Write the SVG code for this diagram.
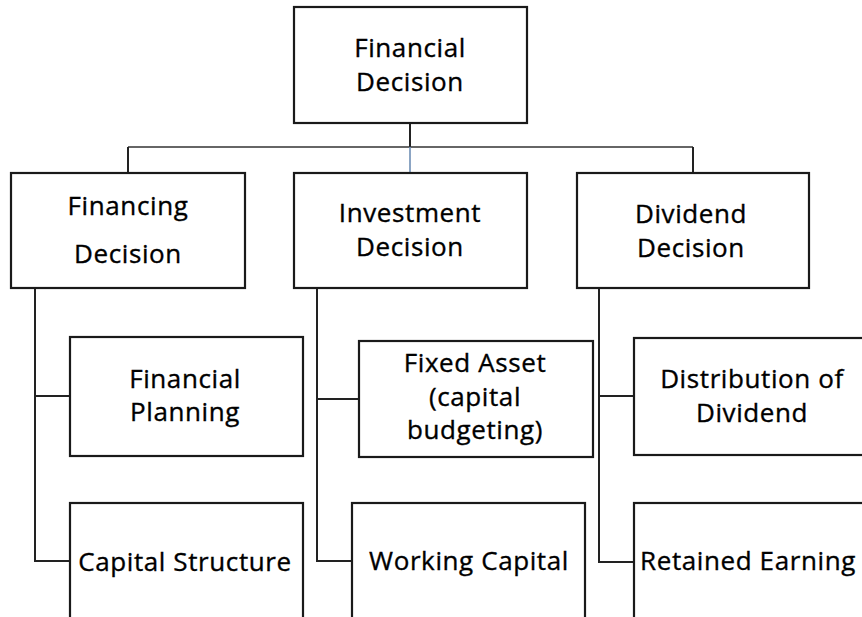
<svg xmlns="http://www.w3.org/2000/svg" width="862" height="617" viewBox="0 0 862 617">
<style>
.box{fill:#fff;stroke:#1a1a1a;stroke-width:2.2}
.t{font-family:"Open Sans","Liberation Sans",sans-serif;font-size:26px;letter-spacing:0.6px;fill:#000;stroke:#000;stroke-width:0.35;text-anchor:middle}
.c{fill:none;stroke:#222;stroke-width:2}
</style>
<rect width="862" height="617" fill="#fff"/>
<g id="connectors">
<path class="c" d="M410 123V147"/>
<path d="M128 147H693" fill="none" stroke="#333" stroke-width="1.6"/>
<path d="M410 147V173" fill="none" stroke="#6f8fb5" stroke-width="1.6"/>
<path class="c" d="M128 147V173M693 147V173"/>
<path class="c" d="M35 288V561H70M35 396H70"/>
<path class="c" d="M317 288V561H352M317 399H359"/>
<path class="c" d="M599 288V562H634M599 396H634"/>
</g>
<g id="financial-decision"><rect class="box" x="294" y="7" width="233" height="116"/><text class="t" x="410" y="57">Financial</text><text class="t" x="410" y="91">Decision</text></g>
<g id="financing-decision"><rect class="box" x="11" y="173" width="234" height="115"/><text class="t" x="128" y="215">Financing</text><text class="t" x="128" y="263">Decision</text></g>
<g id="investment-decision"><rect class="box" x="294" y="173" width="233" height="115"/><text class="t" x="410" y="222">Investment</text><text class="t" x="410" y="256">Decision</text></g>
<g id="dividend-decision"><rect class="box" x="577" y="173" width="232" height="115"/><text class="t" x="691" y="223">Dividend</text><text class="t" x="691" y="257">Decision</text></g>
<g id="financial-planning"><rect class="box" x="70" y="337" width="233" height="119"/><text class="t" x="185" y="388">Financial</text><text class="t" x="185" y="421">Planning</text></g>
<g id="capital-structure"><rect class="box" x="70" y="503" width="233" height="130"/><text class="t" x="185" y="571">Capital Structure</text></g>
<g id="fixed-asset"><rect class="box" x="359" y="341" width="234" height="116"/><text class="t" x="475" y="372">Fixed Asset</text><text class="t" x="475" y="406">(capital</text><text class="t" x="475" y="439">budgeting)</text></g>
<g id="working-capital"><rect class="box" x="352" y="503" width="233" height="130"/><text class="t" x="469" y="570">Working Capital</text></g>
<g id="distribution-of-dividend"><rect class="box" x="634" y="338" width="240" height="117"/><text class="t" x="752" y="388">Distribution of</text><text class="t" x="752" y="422">Dividend</text></g>
<g id="retained-earning"><rect class="box" x="634" y="503" width="240" height="130"/><text class="t" x="748" y="570">Retained Earning</text></g>
</svg>
